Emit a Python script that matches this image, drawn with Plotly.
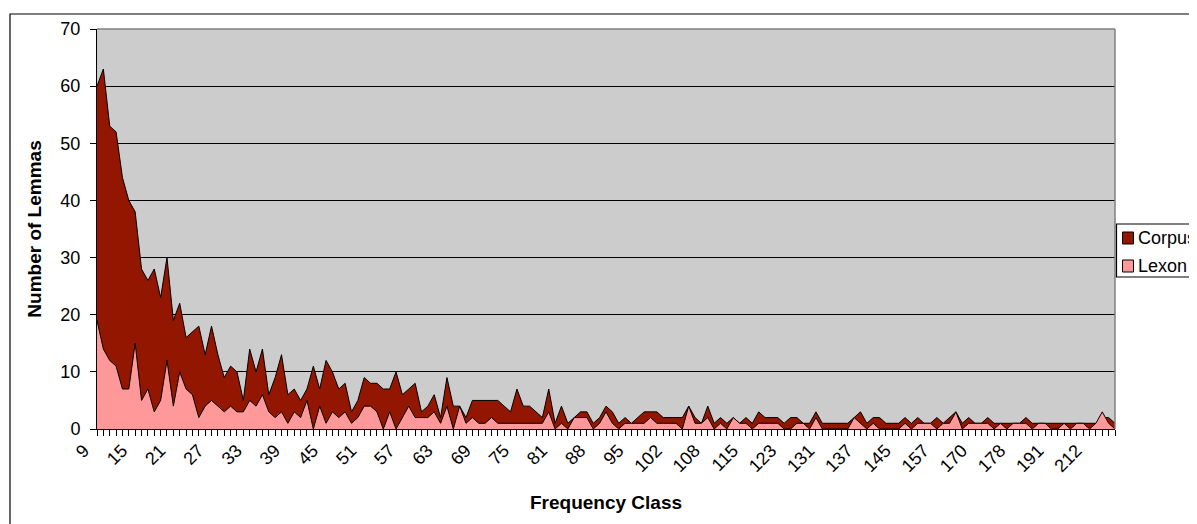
import plotly.graph_objects as go

# ---------------- data ----------------
categories = [
    9, 10, 11, 12, 13, 14, 15, 16, 17, 18, 19, 20, 21, 22, 23, 24, 25, 26, 27, 28,
    29, 30, 31, 32, 33, 34, 35, 36, 37, 38, 39, 40, 41, 42, 43, 44, 45, 46, 47, 48,
    49, 50, 51, 52, 53, 54, 55, 56, 57, 58, 59, 60, 61, 62, 63, 64, 65, 66, 67, 68,
    69, 70, 71, 72, 73, 74, 75, 76, 77, 78, 79, 80, 81,
    82, 83, 84, 85, 86, 88,
    89, 90, 91, 92, 93, 95,
    96, 97, 98, 99, 101, 102,
    103, 104, 105, 106, 107, 108,
    109, 110, 111, 112, 114, 115,
    116, 117, 118, 120, 121, 123,
    124, 125, 127, 128, 129, 131,
    132, 133, 134, 135, 136, 137,
    138, 139, 141, 142, 144, 145,
    146, 148, 150, 152, 155, 157,
    159, 161, 163, 165, 168, 170,
    171, 172, 174, 175, 177, 178,
    180, 182, 184, 186, 189, 191,
    193, 196, 199, 203, 207, 212,
    218, 226, 240, 265,
]

corpus = [
    60, 63, 53, 52, 44, 40, 38, 28, 26, 28, 23, 30, 19, 22, 16, 17, 18, 13, 18, 13,
    9, 11, 10, 5, 14, 10, 14, 6, 9, 13, 6, 7, 5, 7, 11, 7, 12, 10, 7, 8,
    3, 5, 9, 8, 8, 7, 7, 10, 6, 7, 8, 3, 4, 6, 2, 9, 4, 4, 2, 5,
    5, 5, 5, 5, 4, 3, 7, 4, 4, 3, 2, 7, 1, 4, 1, 2, 3, 3, 1, 2,
    4, 3, 1, 2, 1, 2, 3, 3, 3, 2, 2, 2, 2, 4, 2, 1, 4, 1, 2, 1,
    2, 1, 2, 1, 3, 2, 2, 2, 1, 2, 2, 1, 1, 3, 1, 1, 1, 1, 1, 2,
    3, 1, 2, 2, 1, 1, 1, 2, 1, 2, 1, 1, 2, 1, 2, 3, 1, 2, 1, 1,
    2, 1, 1, 1, 1, 1, 2, 1, 1, 1, 1, 1, 1, 1, 1, 1, 1, 1, 2, 2,
    1,
]

lexon = [
    19, 14, 12, 11, 7, 7, 15, 5, 7, 3, 5, 12, 4, 10, 7, 6, 2, 4, 5, 4,
    3, 4, 3, 3, 5, 4, 6, 3, 2, 3, 1, 3, 2, 5, 0, 4, 1, 3, 2, 3,
    1, 2, 4, 4, 3, 0, 3, 0, 2, 4, 2, 2, 2, 3, 1, 4, 0, 4, 1, 2,
    1, 1, 2, 1, 1, 1, 1, 1, 1, 1, 1, 3, 0, 1, 0, 2, 2, 2, 0, 1,
    3, 1, 0, 1, 1, 1, 1, 2, 1, 1, 1, 1, 0, 4, 1, 1, 2, 0, 1, 0,
    2, 1, 1, 0, 1, 1, 1, 1, 0, 0, 1, 1, 0, 2, 0, 0, 0, 0, 0, 2,
    1, 0, 1, 0, 0, 0, 0, 1, 0, 1, 1, 1, 0, 1, 1, 3, 0, 1, 1, 1,
    1, 0, 1, 0, 1, 1, 1, 0, 1, 1, 0, 0, 1, 0, 1, 1, 0, 1, 3, 1,
    0,
]

TICK_LABELS = ["9", "15", "21", "27", "33", "39", "45", "51", "57", "63", "69", "75",
               "81", "88", "95", "102", "108", "115", "123", "131", "137", "145",
               "157", "170", "178", "191", "212"]

SERIES_NAMES = ["Corpus", "Lexon"]
SERIES_COLORS = ["#931600", "#FF9999"]

# ---------------- layout geometry ----------------
# The page body has an 8px default margin, so the figure is drawn 8px smaller
# and all reference-pixel positions are shifted by that offset.
OFF = 8
W, H = 1197 - OFF, 524 - OFF
L, T = 97 - OFF, 29 - OFF
R = W - (1115 - OFF)
B = H - (429 - OFF)
PW, PH = W - L - R, H - T - B
FONT = "Liberation Sans, Arial, sans-serif"


def px_x(ref_px):
    return (ref_px - OFF - L) / PW


def px_y(ref_py):
    return (H - B - (ref_py - OFF)) / PH


x_idx = list(range(len(categories)))
tickvals = [categories.index(int(t)) for t in TICK_LABELS]

fig = go.Figure()
for name, vals, col in zip(SERIES_NAMES, [corpus, lexon], SERIES_COLORS):
    fig.add_trace(go.Scatter(
        x=x_idx, y=vals, name=name, mode="lines", fill="tozeroy",
        fillcolor=col, line=dict(color="black", width=1), showlegend=False,
        hoverinfo="skip",
    ))

shapes = [
    # outer chart frame (cut off at right / bottom)
    dict(type="rect", xref="paper", yref="paper",
         x0=px_x(10), x1=px_x(1197 + 30), y0=px_y(524 + 30), y1=px_y(14),
         line=dict(color="black", width=1.2), layer="above"),
    # plot-area border (top & right, grey)
    dict(type="line", xref="paper", yref="paper", x0=0, x1=1, y0=1, y1=1,
         line=dict(color="#808080", width=1.5), layer="above"),
    dict(type="line", xref="paper", yref="paper", x0=1, x1=1, y0=0, y1=1,
         line=dict(color="#808080", width=1.5), layer="above"),
    # legend box
    dict(type="rect", xref="paper", yref="paper",
         x0=px_x(1116.5), x1=px_x(1197 + 40), y0=px_y(277), y1=px_y(224),
         line=dict(color="black", width=1.2), fillcolor="white", layer="above"),
]
annotations = []
legend_rows = [238, 266]
for name, col, cy in zip(SERIES_NAMES, SERIES_COLORS, legend_rows):
    shapes.append(dict(type="rect", xref="paper", yref="paper",
                       x0=px_x(1122.5), x1=px_x(1133.5), y0=px_y(cy + 6), y1=px_y(cy - 6),
                       line=dict(color="black", width=1), fillcolor=col, layer="above"))
    annotations.append(dict(text=name, xref="paper", yref="paper",
                            x=px_x(1136), y=px_y(cy), xanchor="left", yanchor="middle",
                            showarrow=False, font=dict(family=FONT, size=18, color="black")))

fig.update_layout(
    width=W, height=H, autosize=False,
    margin=dict(l=L, r=R, t=T, b=B, autoexpand=False),
    paper_bgcolor="white", plot_bgcolor="#CCCCCC",
    font=dict(family=FONT, size=18, color="black"),
    showlegend=False,
    shapes=shapes, annotations=annotations,
)

fig.update_xaxes(
    range=[0, len(categories) - 1], showgrid=False, zeroline=False,
    showline=True, linecolor="black", linewidth=1,
    ticks="outside", ticklen=6, tickcolor="black", tickwidth=1,
    tickvals=tickvals, ticktext=TICK_LABELS, tickangle=-45,
    ticklabelshift=-13, ticklabelstandoff=-3,
    tickfont=dict(family=FONT, size=18, color="black"),
    minor=dict(ticks="outside", ticklen=6, tickcolor="black", dtick=1, tick0=0, showgrid=False),
    title=dict(text="<b>Frequency Class</b>", font=dict(family=FONT, size=19, color="black"),
               standoff=20),
)
fig.update_yaxes(
    range=[0, 70], dtick=10, showgrid=True, gridcolor="black", gridwidth=1,
    zeroline=False, showline=True, linecolor="black", linewidth=1,
    ticks="outside", ticklen=6, tickcolor="black",
    tickfont=dict(family=FONT, size=18, color="black"), ticklabelstandoff=6,
    title=dict(text="<b>Number of Lemmas</b>", font=dict(family=FONT, size=19, color="black"),
               standoff=13),
)

fig.write_html("out.html")
